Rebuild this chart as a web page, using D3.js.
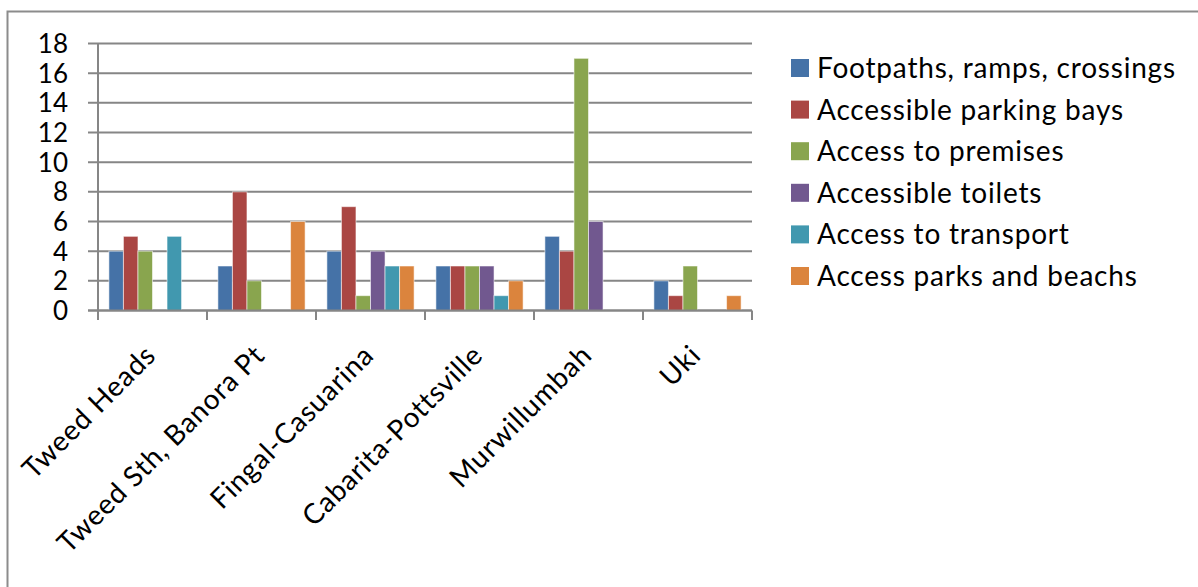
<!DOCTYPE html>
<html><head><meta charset="utf-8">
<script src="https://cdn.jsdelivr.net/npm/d3@7"></script>
<style>body{margin:0;background:#fff;}svg{display:block;font-family:Lato,"Open Sans",sans-serif;}</style>
</head><body>
<svg id="c" width="1198" height="587"></svg>
<script>
const categories = ["Tweed Heads","Tweed Sth, Banora Pt","Fingal-Casuarina","Cabarita-Pottsville","Murwillumbah","Uki"];
const seriesNames = ["Footpaths, ramps, crossings","Accessible parking bays","Access to premises","Accessible toilets","Access to transport","Access parks and beachs"];
const footpaths = [4,3,4,3,5,2];
const parking   = [5,8,7,3,4,1];
const premises  = [4,2,1,3,17,3];
const toilets   = [0,0,4,3,6,0];
const transport = [5,0,3,1,0,0];
const parks     = [0,6,3,2,0,1];
const yTicks = [0,2,4,6,8,10,12,14,16,18];
const colors = ["#4572A7","#AA4643","#89A54E","#71588F","#4198AF","#DB843D"];

const seriesValues = [footpaths,parking,premises,toilets,transport,parks];
const svg = d3.select("#c");
const grid = "#868686";

// outer chart border
svg.append("path").attr("d","M7.5,587 V11.5 H1198").attr("fill","none").attr("stroke","#8c8c8c").attr("stroke-width",2);

const x0 = d3.scaleBand().domain(categories).range([98,752]).paddingInner(0).paddingOuter(0);
// Excel-style gap width of 150%
const bw = x0.bandwidth()/7.5;
const x1 = d3.scaleBand().domain(d3.range(6)).range([0.75*bw, 0.75*bw+6*bw]);
const y = d3.scaleLinear().domain([0,18]).range([310.5,43.5]);

// gridlines
svg.append("g").selectAll("line").data(yTicks).join("line")
  .attr("x1",88).attr("x2",752).attr("y1",d=>y(d)).attr("y2",d=>y(d))
  .attr("stroke",grid).attr("stroke-width",2);

// y tick labels
svg.append("g").selectAll("text").data(yTicks).join("text")
  .attr("x",68).attr("y",d=>y(d)).attr("dy","0.36em").attr("text-anchor","end")
  .attr("font-size",26).attr("fill","#000").text(d=>d);

// bars
const g = svg.append("g");
categories.forEach((c,ci)=>{
  seriesValues.forEach((vals,si)=>{
    const v = vals[ci];
    if(v<=0) return;
    g.append("rect")
      .attr("x",x0(c)+x1(si)).attr("width",x1.bandwidth())
      .attr("y",y(v)).attr("height",y(0)-y(v))
      .attr("fill",colors[si]).attr("stroke","rgba(255,255,255,0.55)").attr("stroke-width",1);
  });
});

// axes
svg.append("line").attr("x1",98).attr("x2",98).attr("y1",43.5).attr("y2",310.5).attr("stroke",grid).attr("stroke-width",2);
svg.append("line").attr("x1",88).attr("x2",752).attr("y1",310.5).attr("y2",310.5).attr("stroke",grid).attr("stroke-width",2);
const tickXs = categories.map(c=>x0(c)).concat([752]);
svg.append("g").selectAll("line").data(tickXs).join("line")
  .attr("x1",d=>d).attr("x2",d=>d).attr("y1",310.5).attr("y2",320).attr("stroke",grid).attr("stroke-width",2);

// x labels
svg.append("g").selectAll("text").data(categories).join("text")
  .attr("transform",d=>`translate(${x0(d)+x0.bandwidth()/2+5},357) rotate(-45)`)
  .attr("text-anchor","end").attr("font-size",28).attr("letter-spacing","0.8px").attr("fill","#000").text(d=>d);

// legend
const lg = svg.append("g");
seriesNames.forEach((n,i)=>{
  const cy = 68 + i*41.6;
  lg.append("rect").attr("x",791).attr("y",cy-9).attr("width",18).attr("height",18).attr("fill",colors[i]);
  lg.append("text").attr("x",817).attr("y",cy).attr("dy","0.36em").attr("font-size",28).attr("letter-spacing","0.8px").attr("fill","#000").text(n);
});
</script>
</body></html>
